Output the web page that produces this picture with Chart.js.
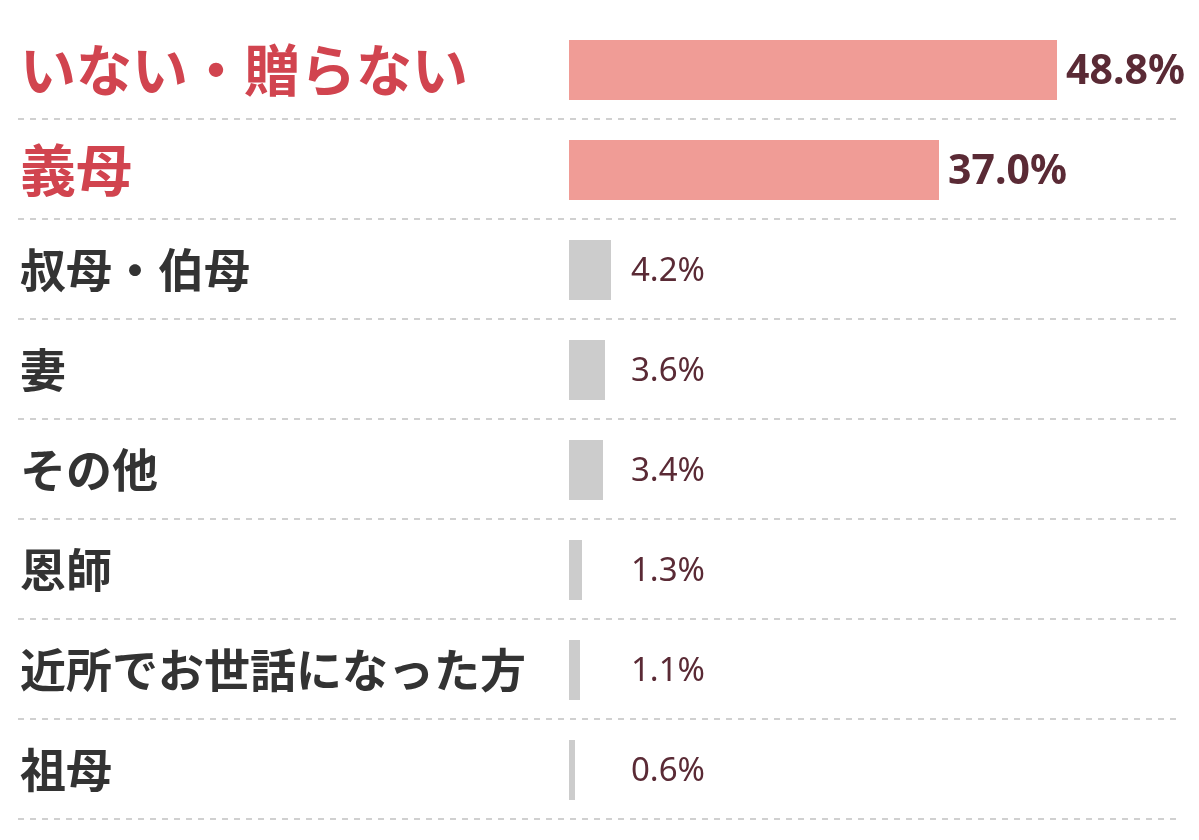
<!DOCTYPE html>
<html lang="ja">
<head>
<meta charset="utf-8">
<script src="https://cdn.jsdelivr.net/npm/chart.js@4"></script>
<style>
  html, body { margin: 0; padding: 0; background: #fff; }
  #wrap { width: 1199px; height: 840px; position: relative; }
</style>
</head>
<body>
<div id="wrap"><canvas id="giftchart"></canvas></div>
<script>
// data
const categories = [
  "いない・贈らない",
  "義母",
  "叔母・伯母",
  "妻",
  "その他",
  "恩師",
  "近所でお世話になった方",
  "祖母"
];
const percentages = [48.8, 37.0, 4.2, 3.6, 3.4, 1.3, 1.1, 0.6];
const valueLabels = ["48.8%", "37.0%", "4.2%", "3.6%", "3.4%", "1.3%", "1.1%", "0.6%"];
const highlightCount = 2;

const jpFont = "'Noto Sans CJK JP', 'Noto Sans', sans-serif";
const numFont = "'Noto Sans', 'Open Sans', sans-serif";
const redText = "#d1444f";
const darkText = "#333333";
const numColor = "#5a2a35";

// dashed row separators across the whole width
const separatorPlugin = {
  id: "separators",
  beforeDatasetsDraw(chart) {
    const ctx = chart.ctx;
    const y = chart.scales.y;
    const step = y.getPixelForValue(1) - y.getPixelForValue(0);
    ctx.save();
    ctx.strokeStyle = "#d0d0d0";
    ctx.lineWidth = 2;
    ctx.setLineDash([6, 6]);
    for (let i = 0; i < categories.length; i++) {
      const py = Math.round(y.getPixelForValue(i) + step / 2) - 1;
      ctx.beginPath();
      ctx.moveTo(18, py);
      ctx.lineTo(1180, py);
      ctx.stroke();
    }
    ctx.restore();
  }
};

// value labels next to bars
const valuePlugin = {
  id: "values",
  afterDatasetsDraw(chart) {
    const ctx = chart.ctx;
    const meta = chart.getDatasetMeta(0);
    const left = chart.chartArea.left;
    ctx.save();
    ctx.fillStyle = numColor;
    ctx.textBaseline = "middle";
    meta.data.forEach((bar, i) => {
      if (i < highlightCount) {
        ctx.font = "bold 41px " + numFont;
        ctx.textAlign = "left";
        ctx.fillText(valueLabels[i], bar.x + 9, bar.y + 2);
      } else {
        ctx.font = "33px " + numFont;
        ctx.textAlign = "right";
        ctx.fillText(valueLabels[i], left + 136, bar.y + 2);
      }
    });
    ctx.restore();
  }
};

const giftCanvas = document.getElementById("giftchart").getContext("2d");
const giftChart = new Chart(giftCanvas, {
  type: "bar",
  data: {
    labels: categories,
    datasets: [
      {
        data: percentages,
        backgroundColor: percentages.map((v, i) => (i < highlightCount ? "#f09c96" : "#cccccc")),
        borderWidth: 0,
        barPercentage: 0.6,
        categoryPercentage: 1.0
      }
    ]
  },
  options: {
    indexAxis: "y",
    responsive: true,
    maintainAspectRatio: false,
    animation: false,
    layout: { padding: { left: 20, right: 30, top: 20, bottom: 20 } },
    plugins: {
      legend: { display: false },
      tooltip: { enabled: false }
    },
    scales: {
      x: {
        display: false,
        min: 0,
        max: 60
      },
      y: {
        grid: { display: false },
        border: { display: false },
        afterFit(scale) {
          scale.width = 549;
          scale.paddingTop = 0;
          scale.paddingBottom = 0;
        },
        ticks: {
          crossAlign: "far",
          padding: 0,
          color: (ctx) => (ctx.index < highlightCount ? redText : darkText),
          font: (ctx) => ({
            family: jpFont,
            size: ctx.index < highlightCount ? 56 : 46,
            weight: "bold"
          })
        }
      }
    }
  },
  plugins: [separatorPlugin, valuePlugin]
});
</script>
</body>
</html>
